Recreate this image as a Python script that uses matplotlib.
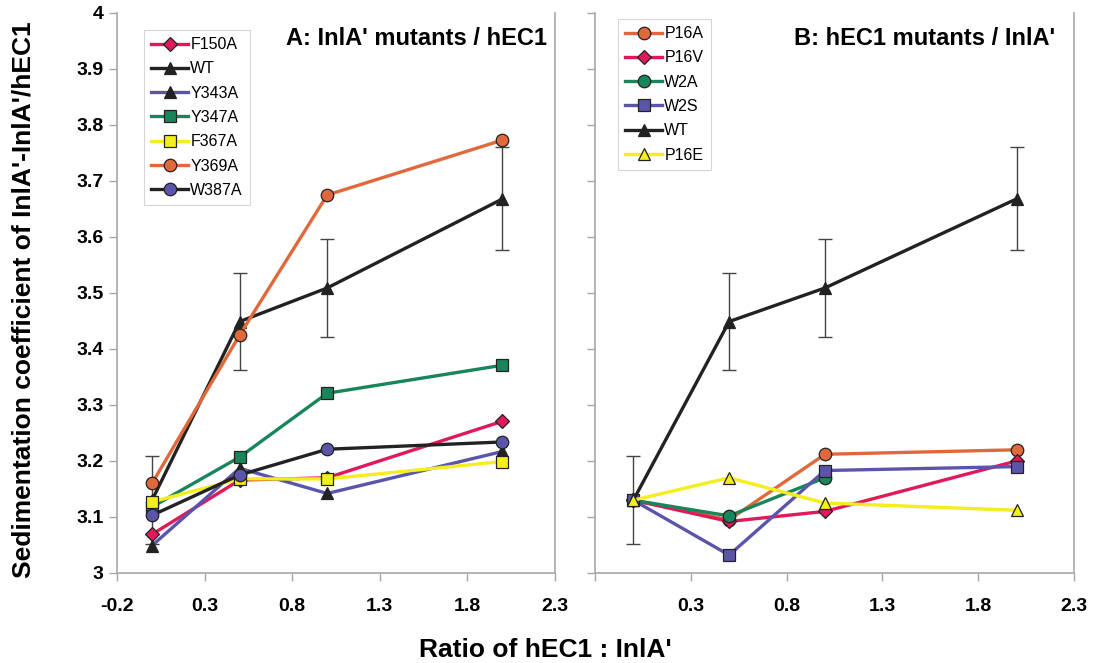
import numpy as np
import matplotlib
matplotlib.use('Agg')
import matplotlib.pyplot as plt

plt.rcParams['font.family'] = ['Liberation Sans', 'DejaVu Sans']

ratio = [0.0, 0.5, 1.0, 2.0]

# panel A: InlA' mutants / hEC1
a_names = ['F150A', 'WT', 'Y343A', 'Y347A', 'F367A', 'Y369A', 'W387A']
a_vals = [
    [3.069, 3.166, 3.170, 3.271],
    [3.130, 3.449, 3.509, 3.668],
    [3.049, 3.187, 3.142, 3.217],
    [3.118, 3.207, 3.321, 3.371],
    [3.127, 3.168, 3.168, 3.199],
    [3.160, 3.425, 3.675, 3.773],
    [3.103, 3.175, 3.221, 3.234],
]

# panel B: hEC1 mutants / InlA'
b_names = ['P16A', 'P16V', 'W2A', 'W2S', 'WT', 'P16E']
b_vals = [
    [3.130, 3.095, 3.212, 3.220],
    [3.130, 3.092, 3.110, 3.200],
    [3.130, 3.102, 3.170, np.nan],
    [3.130, 3.032, 3.183, 3.190],
    [3.130, 3.449, 3.509, 3.668],
    [3.130, 3.170, 3.125, 3.112],
]

wt_err = [0.079, 0.086, 0.088, 0.092]

red = '#e0195a'
blk = '#222222'
blue = '#5a55aa'
green = '#18855a'
yel = '#f4ee1c'
orng = '#e0683a'

# line colour, marker, marker face, marker size
a_style = {
    'F150A': (red, 'D', red, 7),
    'WT': (blk, '^', blk, 9),
    'Y343A': (blue, '^', blk, 9),
    'Y347A': (green, 's', green, 8.5),
    'F367A': (yel, 's', yel, 8.5),
    'Y369A': (orng, 'o', orng, 9),
    'W387A': (blk, 'o', blue, 9),
}
b_style = {
    'P16A': (orng, 'o', orng, 9),
    'P16V': (red, 'D', red, 7),
    'W2A': (green, 'o', green, 9),
    'W2S': (blue, 's', blue, 8.5),
    'WT': (blk, '^', blk, 9),
    'P16E': (yel, '^', yel, 9),
}

fig = plt.figure(figsize=(10.93, 6.63), dpi=100)
W, H = 1093, 663
axA = fig.add_axes([117 / W, 1 - 573 / H, (555 - 117) / W, (573 - 13) / H])
axB = fig.add_axes([595 / W, 1 - 573 / H, (1074 - 595) / W, (573 - 13) / H])


def draw(ax, names, vals, style, anchor):
    handles = []
    for n, v in zip(names, vals):
        c, m, fc, ms = style[n]
        if n == 'WT':
            ax.errorbar(ratio, v, yerr=wt_err, fmt='none', ecolor='#444444',
                        elinewidth=1.0, capsize=5, capthick=1.0, zorder=2)
        h, = ax.plot(ratio, v, color=c, lw=2.4, marker=m, mfc=fc, mec='#222222',
                     mew=0.9, ms=ms, label=n, zorder=3)
        handles.append(h)
    ax.set_xlim(-0.2, 2.3)
    ax.set_ylim(3.0, 4.0)
    ax.set_xticks([-0.2, 0.3, 0.8, 1.3, 1.8, 2.3])
    ax.set_yticks(np.arange(3.0, 4.01, 0.1))
    for s in ['left', 'bottom', 'right']:
        ax.spines[s].set_color('#a8a8a8')
        ax.spines[s].set_linewidth(1.2)
    ax.spines['top'].set_visible(False)
    ax.tick_params(direction='out', length=6, color='#a8a8a8', width=1)
    leg = ax.legend(handles=handles, loc='upper left', bbox_to_anchor=anchor,
                    bbox_transform=ax.transAxes, frameon=True, fancybox=False,
                    edgecolor='#cccccc', fontsize=11.5, handlelength=2.3,
                    handletextpad=0.15, labelspacing=0.58, borderpad=0.45,
                    borderaxespad=0.0)
    leg.get_frame().set_linewidth(0.8)
    return leg


draw(axA, a_names, a_vals, a_style, ((144 - 117) / 438, 1 - (30 - 13) / 560))
draw(axB, b_names, b_vals, b_style, ((618 - 595) / 479, 1 - (19 - 13) / 560))

tickfont = dict(family=['Liberation Sans Narrow', 'Liberation Sans', 'DejaVu Sans'],
                weight='bold', size=14)
axA.set_xticklabels(['-0.2', '0.3', '0.8', '1.3', '1.8', '2.3'], fontdict=tickfont)
axA.set_yticklabels(['3', '3.1', '3.2', '3.3', '3.4', '3.5', '3.6', '3.7', '3.8', '3.9', '4'],
                    fontdict=tickfont)
axB.set_xticklabels(['', '0.3', '0.8', '1.3', '1.8', '2.3'], fontdict=tickfont)
axB.set_yticklabels([])
for ax in (axA, axB):
    ax.tick_params(axis='x', pad=12)

axA.text(0.982, 0.955, "A: InlA' mutants / hEC1", transform=axA.transAxes,
         ha='right', va='center', fontsize=17, weight='bold')
axB.text(0.96, 0.955, "B: hEC1 mutants / InlA'", transform=axB.transAxes,
         ha='right', va='center', fontsize=17, weight='bold')

fig.text(545 / W, 1 - 650 / H, "Ratio of hEC1 : InlA'", ha='center', va='center',
         fontsize=19, weight='bold',
         family=['Liberation Sans Narrow', 'Liberation Sans', 'DejaVu Sans'])
fig.text(24 / W, 1 - 300 / H, "Sedimentation coefficient of InlA'-InlA'/hEC1",
         rotation=90, ha='center', va='center', fontsize=19, weight='bold')

fig.savefig('out.png', dpi=100)
